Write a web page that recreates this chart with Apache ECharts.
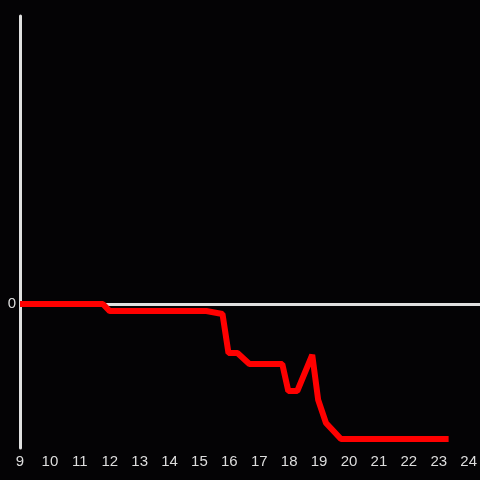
<!DOCTYPE html>
<html>
<head>
<meta charset="utf-8">
<script src="https://cdn.jsdelivr.net/npm/echarts@6/dist/echarts.min.js"></script>
<style>
    html, body { margin: 0; padding: 0; background: #040305; }
    #main { width: 480px; height: 480px; }
</style>
</head>
<body>
<div id="main"></div>
<script>
// hours of day and the running value
var hours = [9.0, 11.77, 12.0, 15.23, 15.77, 15.97, 16.27, 16.67, 17.77, 17.97, 18.27, 18.77, 18.97, 19.23, 19.73, 23.33];
var values = [0, 0, -4.9, -4.9, -6.9, -34, -34, -41.7, -41.7, -60.4, -60.4, -35.4, -66.7, -82.6, -93.8, -93.8];
var xMin = 9, xMax = 24;
var yMin = -100, yMax = 200;

(function () {
    var chart = echarts.init(document.getElementById('main'));
    var points = [];
    for (var i = 0; i < hours.length; i++) {
        points.push([hours[i], values[i]]);
    }
    var option = {
        backgroundColor: '#040305',
        animation: false,
        grid: [
            {left: 20, right: 10, top: 16, bottom: 32},
            // same height, reaches the right edge: only carries the zero line
            {left: 20, right: 0, top: 16, bottom: 32}
        ],
        xAxis: [
            {
                type: 'value',
                min: xMin,
                max: xMax,
                interval: 1,
                axisLine: {show: false},
                axisTick: {show: false},
                splitLine: {show: false},
                axisLabel: {
                    color: '#dddddd',
                    fontSize: 15,
                    margin: 6
                }
            },
            {gridIndex: 1, type: 'value', min: xMin, max: xMax, show: false}
        ],
        yAxis: [
            {
                type: 'value',
                min: yMin,
                max: yMax,
                interval: 100,
                axisLine: {show: true, lineStyle: {color: '#e0e0e0', width: 3}},
                axisTick: {show: false},
                splitLine: {show: false},
                axisLabel: {
                    color: '#dddddd',
                    fontSize: 15,
                    margin: 4,
                    formatter: function (v) {
                        return v === 0 ? '0' : '';
                    }
                }
            },
            {gridIndex: 1, type: 'value', min: yMin, max: yMax, show: false}
        ],
        series: [
            {
                // zero line
                type: 'line',
                xAxisIndex: 1,
                yAxisIndex: 1,
                data: [],
                silent: true,
                z: 1,
                markLine: {
                    silent: true,
                    symbol: 'none',
                    label: {show: false},
                    lineStyle: {color: '#e0e0e0', width: 3, type: 'solid'},
                    data: [{yAxis: 0}]
                }
            },
            {
                type: 'line',
                data: points,
                showSymbol: false,
                lineStyle: {color: '#ff0000', width: 6},
                z: 5
            }
        ]
    };
    chart.setOption(option);
}());
</script>
</body>
</html>
